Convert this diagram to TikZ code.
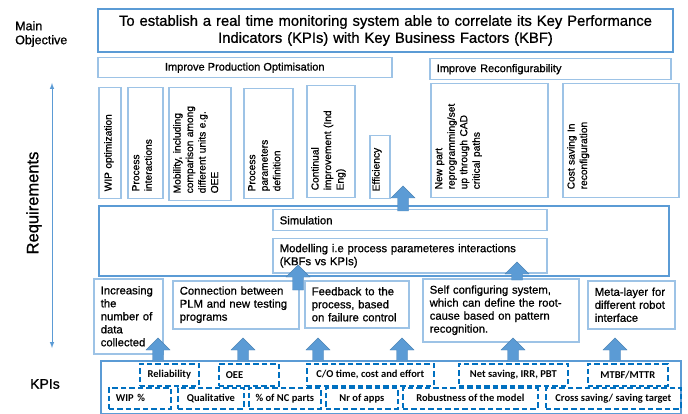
\documentclass[tikz,border=0pt]{standalone}
\usepackage{fontspec}
\setmainfont{Liberation Sans}[FakeBold=0.9]
\newfontfamily\kpifont{Carlito}
\definecolor{frameblue}{HTML}{5B9BD5}
\definecolor{lightframe}{HTML}{9DC3E6}
\definecolor{dashblue}{HTML}{0070C0}

% block arrow pointing up: x, tail y, tip y
\newcommand{\blkup}[3]{%
  \filldraw[blkarrow] (#1-5.5,#2) -- (#1-5.5,#3+12) -- (#1-12,#3+12) -- (#1,#3)
    -- (#1+12,#3+12) -- (#1+5.5,#3+12) -- (#1+5.5,#2) -- cycle;}

\begin{document}
\begin{tikzpicture}[x=1pt,y=-1pt,
    every node/.style={inner sep=0pt},
    bigbox/.style={draw=frameblue, line width=2pt, anchor=north west},
    box/.style={draw=lightframe, line width=1.5pt, anchor=north west},
    txtbox/.style={box, inner xsep=7pt, align=left, font=\fontsize{11.3}{13}\selectfont},
    vtext/.style={rotate=90, anchor=north west, inner sep=1pt, align=left, font=\fontsize{10.2}{12.5}\selectfont},
    kpi/.style={draw=dashblue, line width=1.7pt, dash pattern=on 5.5pt off 3pt, anchor=north west,
      align=center, font=\kpifont\bfseries\fontsize{10.5}{12}\selectfont},
    blkarrow/.style={fill=frameblue, draw=frameblue!85!black, line width=0.4pt},
    sidelabel/.style={align=left, font=\fontsize{12.5}{14}\selectfont}]

  \useasboundingbox (0,0) rectangle (688,414);

  % left side
  \node[sidelabel, anchor=west] (mainlbl) at (15,34) {Main\\Objective};
  \node[rotate=90, font=\fontsize{16.5}{18}\selectfont] (reqlbl) at (34,203) {Requirements};
  \node[font=\fontsize{14}{16}\selectfont] (kpilbl) at (45,384) {KPIs};
  \coordinate (reqtop) at (52,83);
  \coordinate (reqbot) at (52,348);
  \draw[frameblue, line width=1pt, <->, >=latex] (reqtop) -- (reqbot);

  % main objective
  \node[bigbox, minimum width=575pt, minimum height=43pt, text width=563pt, inner xsep=6pt,
    align=center, font=\fontsize{14.8}{17}\selectfont] (objective) at (97,8)
    {To establish a real time monitoring system able to correlate its Key Performance\\
     Indicators (KPIs) with Key Business Factors (KBF)};

  \node[box, minimum width=294pt, minimum height=20pt, font=\fontsize{11}{13}\selectfont]
    (prodopt) at (97,57) {Improve Production Optimisation};
  \node[box, minimum height=21pt, text width=227pt, inner xsep=7pt, align=left,
    font=\fontsize{11}{13}\selectfont] (reconf) at (429,58) {Improve Reconfigurability};

  % requirements (vertical)
  \node[box, minimum width=22pt, minimum height=111pt] (wipopt) at (98,87) {};
  \node[vtext, text width=97pt] at ([shift={(5,-7)}]wipopt.south west) {WIP optimization};
  \node[box, minimum width=35pt, minimum height=111pt] (procint) at (127,87) {};
  \node[vtext, text width=97pt] at ([shift={(4,-7)}]procint.south west) {Process\\interactions};
  \node[box, minimum width=62pt, minimum height=113pt] (mobility) at (168,87) {};
  \node[vtext, text width=99pt] at ([shift={(4,-7)}]mobility.south west)
    {Mobility, including\\comparison among\\different units e.g.\\OEE};
  \node[box, minimum width=49pt, minimum height=110pt] (procpar) at (243,88) {};
  \node[vtext, text width=96pt] at ([shift={(4,-7)}]procpar.south west) {Process\\parameters\\definition};
  \node[box, minimum width=48pt, minimum height=112pt] (contimp) at (306,85) {};
  \node[vtext, text width=98pt] at ([shift={(4,-7)}]contimp.south west) {Continual\\improvement (Ind\\Eng)};
  \node[box, minimum width=20pt, minimum height=63pt] (effic) at (369,135) {};
  \node[vtext, text width=49pt] at ([shift={(2,-7)}]effic.south west) {Efficiency};
  \node[box, minimum width=117pt, minimum height=114pt] (newpart) at (430,83) {};
  \node[vtext, text width=100pt] at ([shift={(4,-8)}]newpart.south west)
    {New part\\reprogramming/set\\up through CAD\\critical paths};
  \node[box, minimum width=116pt, minimum height=114pt] (costsav) at (562,83) {};
  \node[vtext, text width=100pt] at ([shift={(4,-8)}]costsav.south west) {Cost saving In\\reconfiguration};

  % modelling layer
  \node[bigbox, minimum width=570pt, minimum height=70pt] (modlayer) at (98,205) {};
  \node[txtbox, minimum height=21pt, text width=260pt] (simul) at (272,209) {Simulation};
  \node[txtbox, minimum height=34pt, text width=260pt] (model) at (272,238)
    {Modelling i.e process parameteres interactions\\(KBFs vs KPIs)};

  % requirements (lower row)
  \node[txtbox, minimum height=75pt, text width=55pt] (incr) at (93,278)
    {Increasing\\the\\number of\\data\\collected};
  \node[txtbox, minimum height=48pt, text width=112pt] (plm) at (172,280)
    {Connection between\\PLM and new testing\\programs};
  \node[txtbox, minimum height=47pt, text width=90pt] (feedb) at (304,280)
    {Feedback to the\\process, based\\on failure control};
  \node[txtbox, minimum height=63pt, text width=142pt] (selfconf) at (422,278)
    {Self configuring system,\\which can define the root-\\cause based on pattern\\recognition.};
  \node[txtbox, minimum height=48pt, text width=73pt] (meta) at (587,280)
    {Meta-layer for\\different robot\\interface};

  % KPIs
  \node[bigbox, minimum width=580pt, minimum height=53pt] (kpibox) at (100,360) {};
  \node[kpi, minimum width=59pt, minimum height=22pt] (reliab) at (139,363) {Reliability};
  \node[kpi, minimum height=22pt, text width=46pt, inner xsep=7pt, align=left] (oee) at (218,363) {OEE};
  \node[kpi, minimum width=127pt, minimum height=22pt] (cotime) at (306,363) {C/O time, cost and effort};
  \node[kpi, minimum width=109pt, minimum height=22pt] (netsav) at (458,363) {Net saving, IRR, PBT};
  \node[kpi, minimum width=80pt, minimum height=22pt] (mtbf) at (587,363) {MTBF/MTTR};
  \node[kpi, minimum height=21pt, text width=48pt, inner xsep=7pt, align=left] (wipp) at (108,387) {WIP \%};
  \node[kpi, minimum width=66pt, minimum height=21pt] (qual) at (177,387) {Qualitative};
  \node[kpi, minimum width=72pt, minimum height=21pt] (ncparts) at (248,387) {\% of NC parts};
  \node[kpi, minimum width=72pt, minimum height=21pt] (apps) at (325,387) {Nr of apps};
  \node[kpi, minimum width=135pt, minimum height=21pt] (robust) at (402,387) {Robustness of the model};
  \node[kpi, minimum width=135pt, minimum height=21pt] (cross) at (545,387) {Cross saving/ saving target};

  % block arrows
  \blkup{403}{211}{186}
  \blkup{298}{290}{265}
  \blkup{517}{280}{262}
  \foreach \ax in {158,243,318,402,513,615} {
    \blkup{\ax}{361}{338}
  }

\end{tikzpicture}
\end{document}
